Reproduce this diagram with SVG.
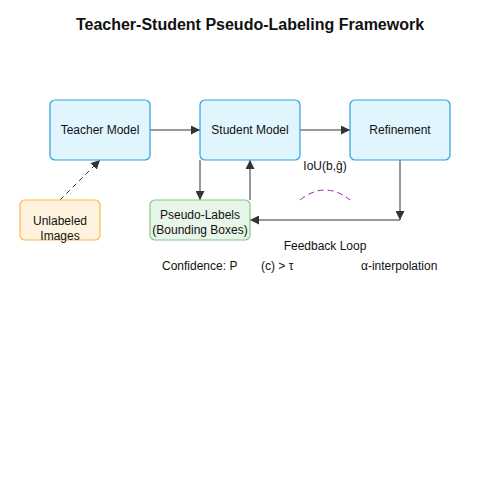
<svg xmlns="http://www.w3.org/2000/svg" width="500" height="500" viewBox="0 0 500 500">
<defs>
<marker id="arr" viewBox="0 0 10 10" refX="10" refY="5" markerWidth="9" markerHeight="9" markerUnits="userSpaceOnUse" orient="auto">
<path d="M0,0 L10,5 L0,10 z" fill="#333"/>
</marker>
<style>
text{font-family:"Liberation Sans",Arial,sans-serif;font-size:12px;fill:#111;}
.title{font-size:16px;font-weight:bold;}
.blue{fill:#e1f5fe;stroke:#29a3e0;stroke-width:1.2;}
.orange{fill:#fff3e0;stroke:#ffb74d;stroke-width:1.2;}
.green{fill:#e8f5e9;stroke:#81c784;stroke-width:1.2;}
.c{stroke:#777;stroke-width:1.5;fill:none;marker-end:url(#arr);}
.d{stroke:#333;stroke-width:1;fill:none;stroke-dasharray:5,4;marker-end:url(#arr);}
</style>
</defs>
<rect width="500" height="500" fill="#fff"/>
<text class="title" x="250" y="30" text-anchor="middle">Teacher-Student Pseudo-Labeling Framework</text>
<g id="connectors">
<line class="c" x1="150" y1="130" x2="200" y2="130"/>
<line class="c" x1="300" y1="130" x2="350" y2="130"/>
<line class="d" x1="60" y1="200" x2="100" y2="160"/>
<line class="c" x1="200" y1="160" x2="200" y2="200"/>
<line class="c" x1="250" y1="200" x2="250" y2="160"/>
<line class="c" x1="400" y1="160" x2="400" y2="220"/>
<line class="c" x1="400" y1="220" x2="250" y2="220"/>
<path d="M300,200 Q325,180 350,200" fill="none" stroke="#9c27b0" stroke-width="1" stroke-dasharray="6,4"/>
</g>
<g id="teacher">
<rect class="blue" x="50" y="100" width="100" height="60" rx="5"/>
<text x="100" y="134" text-anchor="middle">Teacher Model</text>
</g>
<g id="student">
<rect class="blue" x="200" y="100" width="100" height="60" rx="5"/>
<text x="250" y="134" text-anchor="middle">Student Model</text>
</g>
<g id="refinement">
<rect class="blue" x="350" y="100" width="100" height="60" rx="5"/>
<text x="400" y="134" text-anchor="middle">Refinement</text>
</g>
<g id="unlabeled">
<rect class="orange" x="20" y="200" width="80" height="40" rx="5"/>
<text x="60" y="225" text-anchor="middle">Unlabeled</text>
<text x="60" y="240" text-anchor="middle">Images</text>
</g>
<g id="pseudo">
<rect class="green" x="150" y="200" width="100" height="40" rx="5"/>
<text x="200" y="219" text-anchor="middle">Pseudo-Labels</text>
<text x="200" y="234" text-anchor="middle">(Bounding Boxes)</text>
</g>
<text x="325" y="170" text-anchor="middle">IoU(b,ĝ)</text>
<text x="325" y="250" text-anchor="middle">Feedback Loop</text>
<text x="162" y="270">Confidence: P</text>
<text x="261" y="270">(c) &gt; τ</text>
<text x="361" y="270">α-interpolation</text>
</svg>
